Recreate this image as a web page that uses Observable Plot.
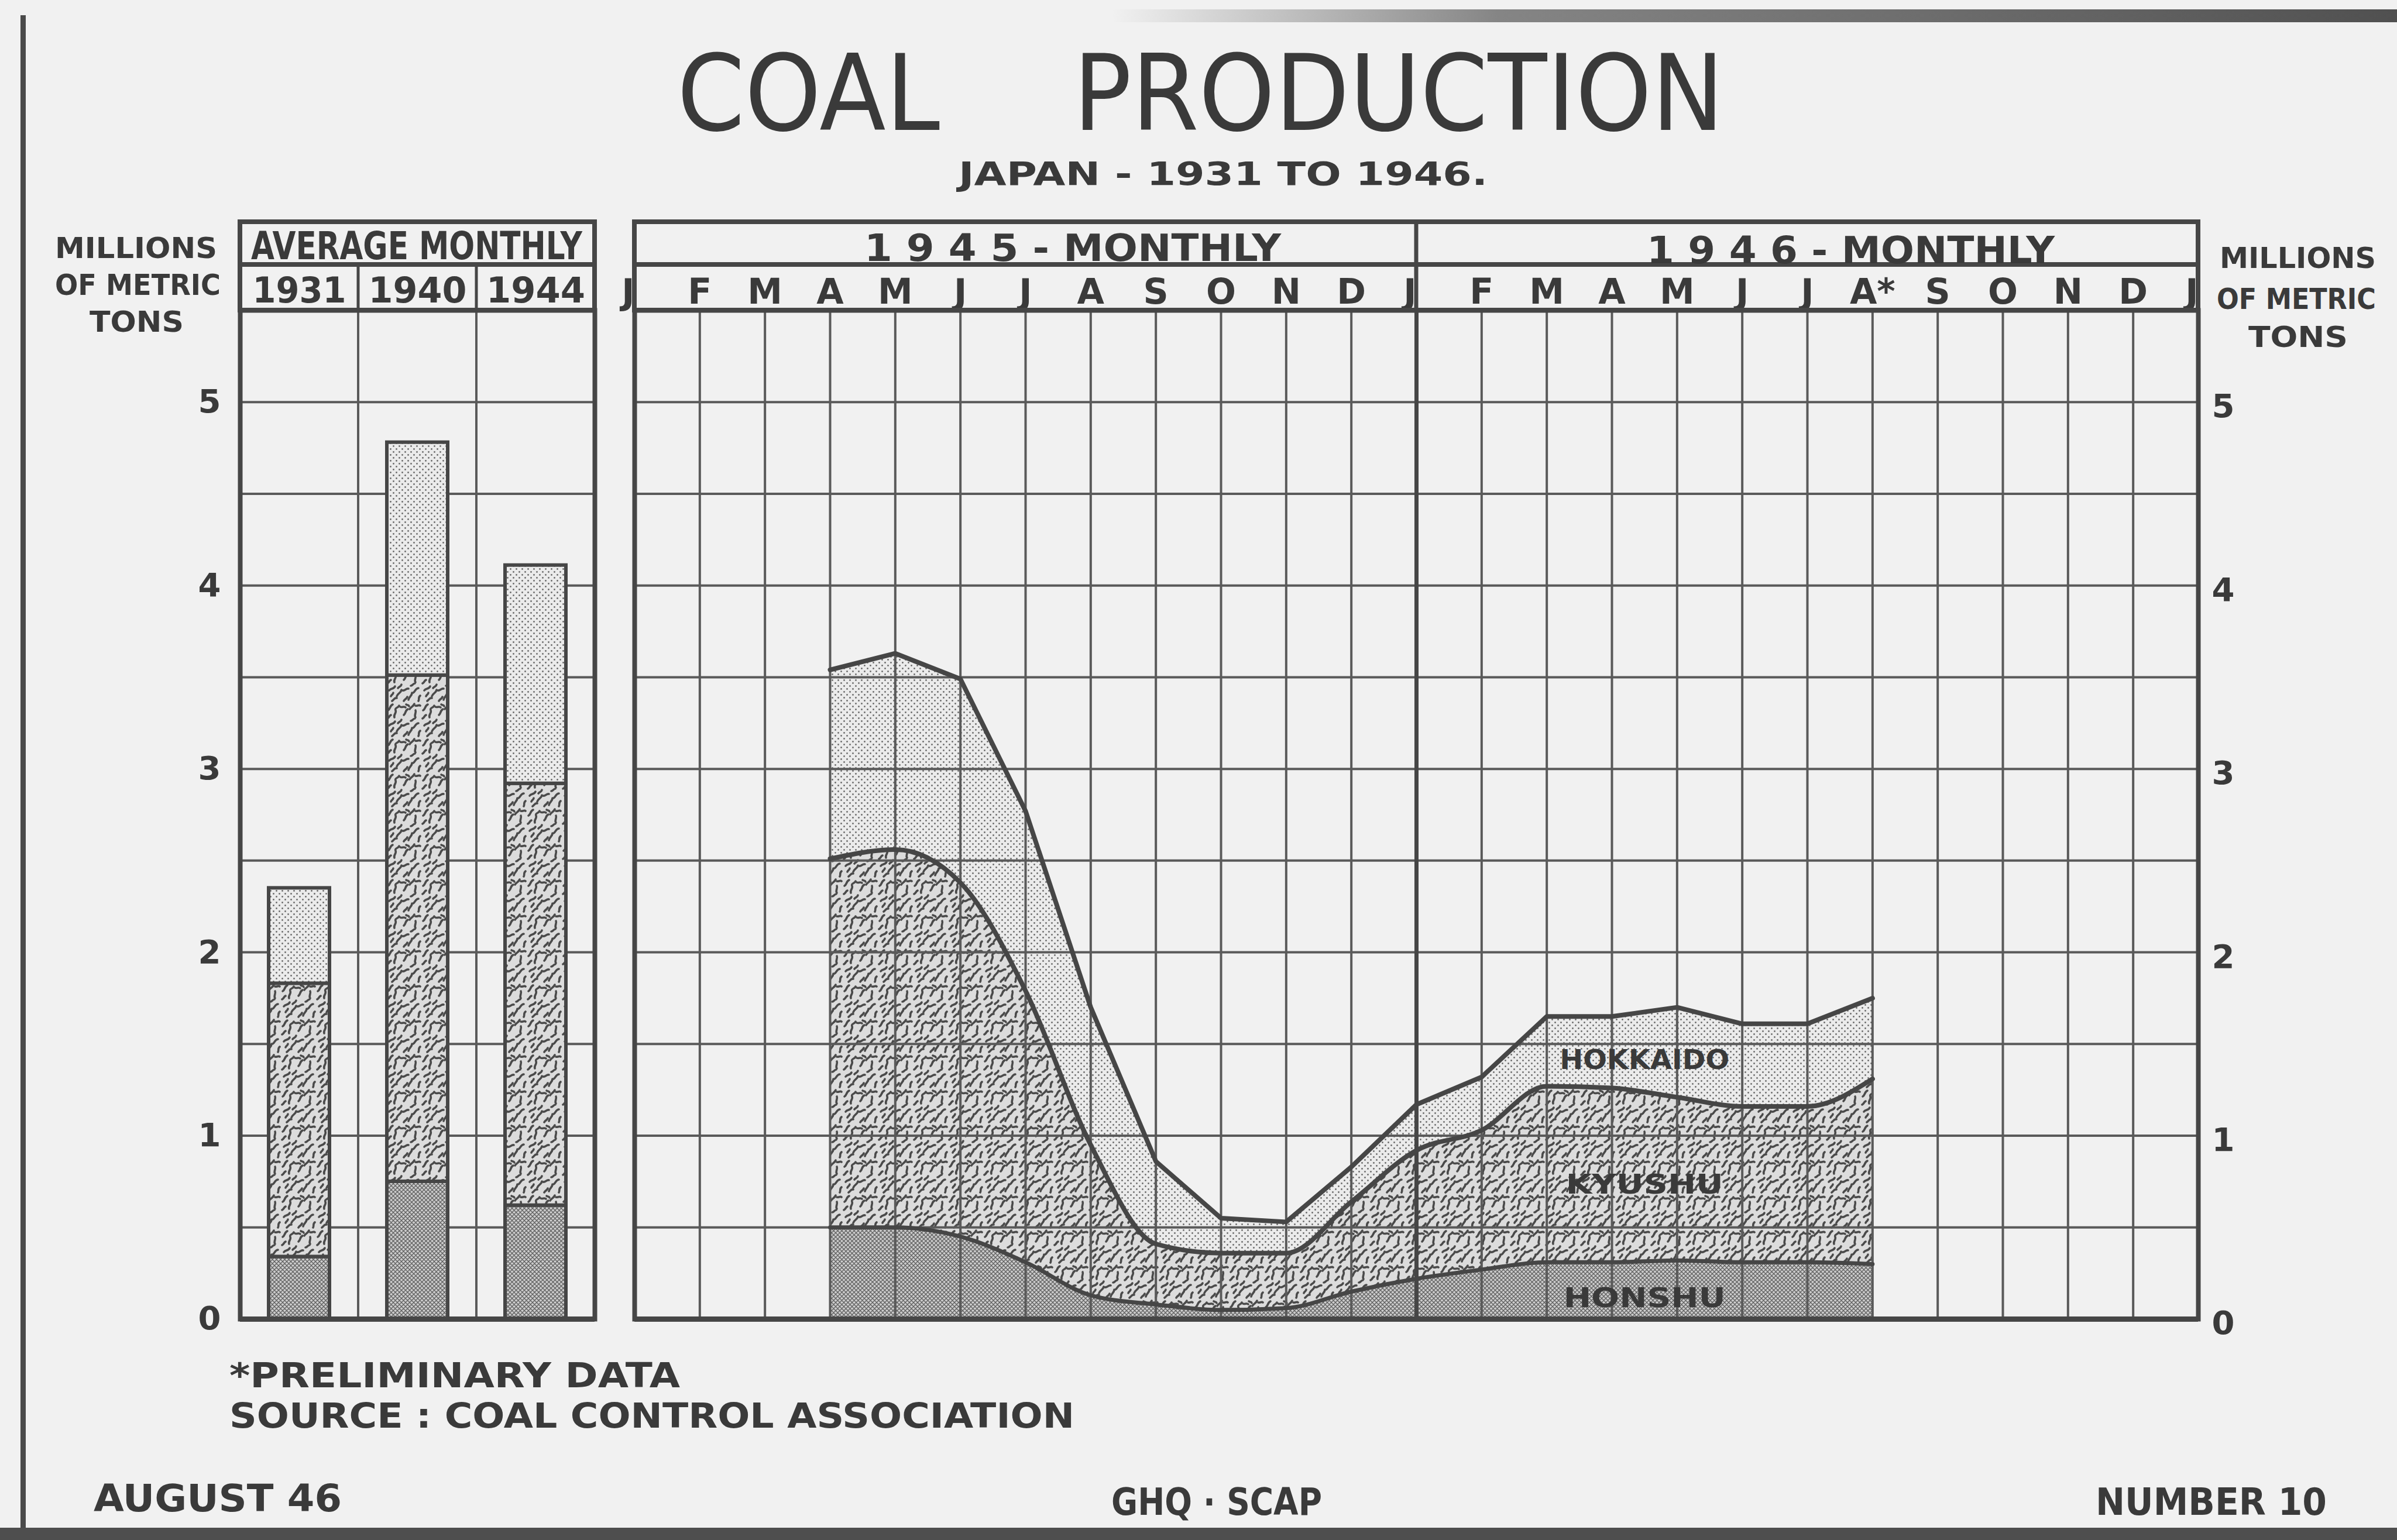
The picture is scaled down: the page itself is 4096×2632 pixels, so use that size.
<!DOCTYPE html>
<html>
<head>
<meta charset="utf-8">
<script src="https://cdn.jsdelivr.net/npm/d3@7"></script>
<script src="https://cdn.jsdelivr.net/npm/@observablehq/plot@0.6"></script>
<style>
html, body { margin: 0; padding: 0; background: #f1f1f1; overflow: hidden; }
#root { position: relative; width: 4096px; height: 2632px; background: #f1f1f1; }
#root > svg { position: absolute; left: 0; top: 0; }
</style>
</head>
<body>
<div id="root"></div>
<script>
// ---------------- DATA ----------------
// Average monthly production (millions of metric tons)
const years = ["1931", "1940", "1944"];
const barHonshu   = [0.34, 0.75, 0.62];
const barKyushu   = [1.49, 2.76, 2.30];
const barHokkaido = [0.52, 1.27, 1.19];

// Monthly production, index 0 = January 1945 (April 1945 .. August 1946)
const monthIndex = [3, 4, 5, 6, 7, 8, 9, 10, 11, 12, 13, 14, 15, 16, 17, 18, 19];
const honshu   = [0.50, 0.50, 0.45, 0.31, 0.13, 0.08, 0.05, 0.06, 0.15, 0.22, 0.27, 0.31, 0.31, 0.32, 0.31, 0.31, 0.30];
const kyushu   = [2.01, 2.06, 1.93, 1.48, 0.82, 0.33, 0.31, 0.30, 0.49, 0.70, 0.76, 0.96, 0.95, 0.89, 0.85, 0.85, 1.01];
const hokkaido = [1.03, 1.07, 1.11, 0.98, 0.75, 0.45, 0.19, 0.17, 0.19, 0.25, 0.29, 0.38, 0.39, 0.49, 0.45, 0.45, 0.44];

const monthLabels = ["J","F","M","A","M","J","J","A","S","O","N","D",
                     "J","F","M","A","M","J","J","A*","S","O","N","D","J"];
const yTicks = [0, 1, 2, 3, 4, 5];
const gridValues = [0.5, 1, 1.5, 2, 2.5, 3, 3.5, 4, 4.5, 5];
const regions = ["HOKKAIDO", "KYUSHU", "HONSHU"];
const labelMonth = 15.5;

// ---------------- LAYOUT / STYLE ----------------
const W = 4096, H = 2632;
const INK = "#464646", GRID = "#5a5a5a", TXT = "#3a3a3a";
const Y0 = 2254, YT = 530;
const BAR_L = 410, BAR_R = 1016, MAIN_L = 1084, MAIN_R = 3756;
const FONT = "'DejaVu Sans', 'Liberation Sans', sans-serif";
const root = document.getElementById("root");

// pattern definitions
const defsSvg = d3.create("svg").attr("width", 0).attr("height", 0).style("position", "absolute");
const defs = defsSvg.append("defs");
{
  const p = defs.append("pattern").attr("id", "pHon").attr("patternUnits", "userSpaceOnUse").attr("width", 7).attr("height", 7);
  p.append("rect").attr("width", 7).attr("height", 7).attr("fill", "#cdcdcd");
  p.append("path").attr("d", "M0 0L7 7M7 0L0 7M-1 6L1 8M6 -1L8 1").attr("stroke", "#626262").attr("stroke-width", 1.3);
}
{
  const p = defs.append("pattern").attr("id", "pHok").attr("patternUnits", "userSpaceOnUse").attr("width", 10).attr("height", 10);
  p.append("rect").attr("width", 10).attr("height", 10).attr("fill", "#ebebeb");
  p.append("circle").attr("cx", 2.5).attr("cy", 2.5).attr("r", 1.4).attr("fill", "#6a6a6a");
  p.append("circle").attr("cx", 7.5).attr("cy", 7.5).attr("r", 1.4).attr("fill", "#6a6a6a");
}
{
  const p = defs.append("pattern").attr("id", "pKyu").attr("patternUnits", "userSpaceOnUse").attr("width", 60).attr("height", 60);
  p.append("rect").attr("width", 60).attr("height", 60).attr("fill", "#dcdcdc");
  const sq = [
    "M3 14c4-2 3-8 8-10", "M14 26c-2-5 4-7 2-12s5-4 6-8", "M24 8c3 2 6-2 9 1", "M30 22c4-3 2-8 7-10",
    "M40 12c2-4 6-4 8-9", "M50 26c-3-4 2-8 0-12", "M5 40c3-4 8-2 10-7", "M18 50c2-6 7-5 8-11",
    "M28 40c4 1 6-4 10-3", "M38 56c1-6 6-6 6-12", "M46 44c4-2 3-7 9-8", "M55 58c2-3-1-6 3-9",
    "M10 58c3-2 4-6 8-5", "M30 58c2-4 5-3 6-7", "M50 6c3 1 6-2 8 0", "M2 28c3-1 3-5 6-6",
    "M20 36c2-3 5-2 6-6", "M42 32c3 0 4-4 7-4", "M8 50c1-3 4-3 4-6", "M34 4c2 2 4 0 5 3"
  ];
  sq.forEach(d => p.append("path").attr("d", d).attr("fill", "none").attr("stroke", "#4a4a4a")
    .attr("stroke-width", 3.6).attr("stroke-linecap", "round"));
}
root.appendChild(defsSvg.node());

// ---------------- TABLES ----------------
const bars = years.map((y, i) => ({
  year: y,
  h: barHonshu[i],
  k: barHonshu[i] + barKyushu[i],
  t: barHonshu[i] + barKyushu[i] + barHokkaido[i]
}));
const series = monthIndex.map((m, i) => ({
  m,
  honshu: honshu[i],
  kyTop: honshu[i] + kyushu[i],
  total: honshu[i] + kyushu[i] + hokkaido[i]
}));
function interp(key, x) {
  for (let i = 0; i < series.length - 1; i++) {
    const a = series[i], b = series[i + 1];
    if (x >= a.m && x <= b.m) {
      const f = (x - a.m) / (b.m - a.m);
      return key ? a[key] + f * (b[key] - a[key]) : 0;
    }
  }
  return 0;
}
const bands = [["kyTop", "total"], ["honshu", "kyTop"], [null, "honshu"]];
const labelRows = regions.map((name, i) => ({
  name, x: labelMonth,
  y: (interp(bands[i][0], labelMonth) + interp(bands[i][1], labelMonth)) / 2
}));
const monthGrid = d3.range(1, 24).filter(i => i !== 12);
const edgeMonths = [0, 12, 24];
const innerMonths = d3.range(25).filter(i => !edgeMonths.includes(i));

// ---------------- BAR PANEL ----------------
const barPlot = Plot.plot({
  width: W, height: H,
  marginLeft: BAR_L, marginRight: W - BAR_R, marginTop: YT, marginBottom: H - Y0,
  style: {background: "transparent", color: TXT, fontFamily: FONT, overflow: "visible"},
  x: {type: "band", domain: years, padding: 0},
  y: {domain: [0, 5.5]},
  marks: [
    Plot.ruleY(gridValues, {stroke: GRID, strokeWidth: 4}),
    Plot.cell(years, {x: d => d, fill: "none", stroke: GRID, strokeWidth: 4, inset: 0}),
    Plot.barY(bars, {x: "year", y1: 0, y2: "h", fill: "url(#pHon)", stroke: INK, strokeWidth: 6, insetLeft: 49, insetRight: 49}),
    Plot.barY(bars, {x: "year", y1: "h", y2: "k", fill: "url(#pKyu)", stroke: INK, strokeWidth: 6, insetLeft: 49, insetRight: 49}),
    Plot.barY(bars, {x: "year", y1: "k", y2: "t", fill: "url(#pHok)", stroke: INK, strokeWidth: 6, insetLeft: 49, insetRight: 49}),
    Plot.frame({stroke: INK, strokeWidth: 8}),
    Plot.ruleY([0], {stroke: INK, strokeWidth: 9}),
    Plot.axisX({anchor: "top", tickSize: 0, tickPadding: 14, fontSize: 60, fontWeight: "bold", label: null}),
    Plot.axisY(yTicks, {anchor: "left", tickSize: 0, tickPadding: 33, fontSize: 56, fontWeight: "bold", tickFormat: d => String(d), label: null})
  ]
});
root.appendChild(barPlot);

// ---------------- MONTHLY PANEL ----------------
const mainPlot = Plot.plot({
  width: W, height: H,
  marginLeft: MAIN_L, marginRight: W - MAIN_R, marginTop: YT, marginBottom: H - Y0,
  style: {background: "transparent", color: TXT, fontFamily: FONT, overflow: "visible"},
  x: {domain: [0, 24]},
  y: {domain: [0, 5.5]},
  marks: [
    Plot.areaY(series, {x: "m", y1: 0, y2: "total", fill: "url(#pHok)"}),
    Plot.areaY(series, {x: "m", y1: 0, y2: "kyTop", curve: "monotone-x", fill: "url(#pKyu)"}),
    Plot.areaY(series, {x: "m", y1: 0, y2: "honshu", curve: "monotone-x", fill: "url(#pHon)"}),
    Plot.ruleY(gridValues, {stroke: GRID, strokeWidth: 4}),
    Plot.ruleX(monthGrid, {stroke: GRID, strokeWidth: 4}),
    Plot.ruleX([12], {stroke: INK, strokeWidth: 7}),
    Plot.lineY(series, {x: "m", y: "total", stroke: INK, strokeWidth: 8}),
    Plot.lineY(series, {x: "m", y: "kyTop", curve: "monotone-x", stroke: INK, strokeWidth: 8}),
    Plot.lineY(series, {x: "m", y: "honshu", curve: "monotone-x", stroke: INK, strokeWidth: 7}),
    Plot.text(labelRows, {x: "x", y: "y", text: "name", fontSize: 46, fontWeight: "bold", fill: TXT, textAnchor: "middle", dy: 14}),
    Plot.frame({stroke: INK, strokeWidth: 8}),
    Plot.ruleY([0], {stroke: INK, strokeWidth: 9}),
    Plot.axisX(innerMonths, {anchor: "top", tickSize: 0, tickPadding: 12, fontSize: 60, fontWeight: "bold", tickFormat: i => monthLabels[i], label: null}),
    Plot.axisX(edgeMonths, {anchor: "top", tickSize: 0, tickPadding: 12, fontSize: 60, fontWeight: "bold", dx: -11, tickFormat: i => monthLabels[i], label: null}),
    Plot.axisY(yTicks, {anchor: "right", tickSize: 0, tickPadding: 23, fontSize: 56, fontWeight: "bold", dy: 8, tickFormat: d => String(d), label: null})
  ]
});
root.appendChild(mainPlot);

function fit(svg, map) {
  svg.querySelectorAll("text").forEach(t => {
    const s = t.textContent.trim();
    if (map[s] != null) {
      t.setAttribute("textLength", map[s]);
      t.setAttribute("lengthAdjust", "spacingAndGlyphs");
    }
  });
}
fit(barPlot, {"1931": 160, "1940": 168, "1944": 169});
fit(mainPlot, {"HOKKAIDO": 290, "KYUSHU": 269, "HONSHU": 277});

// ---------------- OVERLAY (headers, titles, notes, sheet frame) ----------------
const xm = mainPlot.scale("x"), xb = barPlot.scale("x"), ym = mainPlot.scale("y");
const yTop = ym.apply(5.5);
const HT = 379, HM = 452;
const ov = d3.create("svg").attr("width", W).attr("height", H).attr("viewBox", `0 0 ${W} ${H}`)
  .style("font-family", FONT).style("pointer-events", "none");

// sheet frame
const grad = ov.append("defs").append("linearGradient").attr("id", "topg").attr("x1", 0).attr("x2", 1);
grad.append("stop").attr("offset", 0).attr("stop-color", "#6a6a6a").attr("stop-opacity", 0);
grad.append("stop").attr("offset", 0.3).attr("stop-color", "#6a6a6a").attr("stop-opacity", 0.8);
grad.append("stop").attr("offset", 1).attr("stop-color", "#505050").attr("stop-opacity", 1);
ov.append("rect").attr("x", 1900).attr("y", 16).attr("width", W - 1900).attr("height", 22).attr("fill", "url(#topg)");
ov.append("rect").attr("x", 35).attr("y", 26).attr("width", 9).attr("height", H - 26).attr("fill", "#4a4a4a");
ov.append("rect").attr("x", 0).attr("y", 2611).attr("width", W).attr("height", 21).attr("fill", "#4e4e4e");

// header boxes
function box(x1, x2) {
  ov.append("rect").attr("x", x1).attr("y", HT).attr("width", x2 - x1).attr("height", yTop - HT)
    .attr("fill", "none").attr("stroke", INK).attr("stroke-width", 8);
  ov.append("line").attr("x1", x1).attr("x2", x2).attr("y1", HM).attr("y2", HM)
    .attr("stroke", INK).attr("stroke-width", 8);
}
box(xb.range[0], xb.range[1]);
box(xm.apply(0), xm.apply(24));
["1940", "1944"].forEach(y => {
  const x = xb.apply(y);
  ov.append("line").attr("x1", x).attr("x2", x).attr("y1", HM).attr("y2", yTop).attr("stroke", INK).attr("stroke-width", 5);
});
ov.append("line").attr("x1", xm.apply(12)).attr("x2", xm.apply(12)).attr("y1", HT).attr("y2", yTop)
  .attr("stroke", INK).attr("stroke-width", 7);

// texts
function txt(s, x, y, size, len, weight) {
  const t = ov.append("text").attr("x", x).attr("y", y).attr("font-size", size).attr("fill", TXT)
    .attr("font-weight", weight || "normal").text(s);
  if (len) t.attr("textLength", len).attr("lengthAdjust", "spacingAndGlyphs");
  return t;
}
txt("COAL", 1157, 222, 180, 449);
txt("PRODUCTION", 1834, 222, 180, 1112);
txt("JAPAN - 1931 TO 1946.", 1638, 316, 56, 904, "bold");
txt("AVERAGE MONTHLY", 429, 443, 66, 566, "bold");
txt("1 9 4 5 - MONTHLY", 1477, 446, 64, 712, "bold");
txt("1 9 4 6 - MONTHLY", 2814, 450, 64, 697, "bold");
txt("MILLIONS", 94, 441, 50, 277, "bold");
txt("OF METRIC", 94, 504, 50, 283, "bold");
txt("TONS", 153, 567, 50, 161, "bold");
txt("MILLIONS", 3793, 458, 50, 267, "bold");
txt("OF METRIC", 3788, 528, 50, 272, "bold");
txt("TONS", 3842, 593, 50, 170, "bold");
txt("*PRELIMINARY DATA", 392, 2371, 59, 770, "bold");
txt("SOURCE : COAL CONTROL ASSOCIATION", 392, 2440, 59, 1444, "bold");
txt("AUGUST   46", 160, 2583, 64, 424, "bold");
txt("GHQ · SCAP", 1899, 2589, 64, 360, "bold");
txt("NUMBER   10", 3581, 2589, 64, 395, "bold");
root.appendChild(ov.node());
</script>
</body>
</html>
